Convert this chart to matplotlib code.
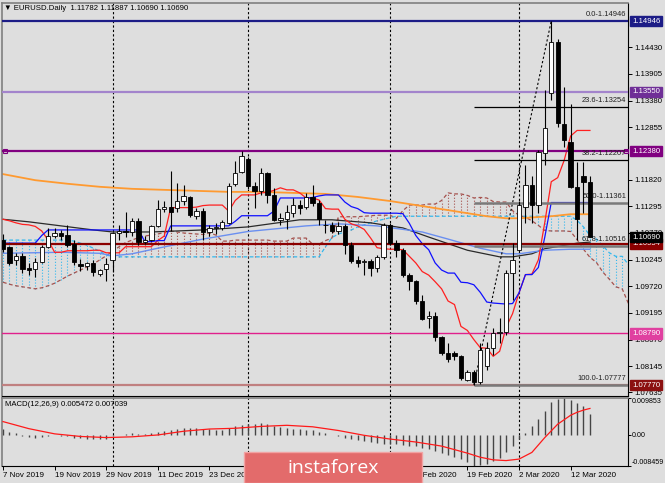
import numpy as np
import matplotlib.pyplot as plt
from matplotlib.patches import Rectangle

plt.rcParams['font.family'] = ['Liberation Sans', 'DejaVu Sans']

# EURUSD daily bars, 7 Nov 2019 .. 17 Mar 2020 (index 0..91)
opens = [1.1063, 1.1049, 1.1024, 1.1032, 1.1008, 1.1006, 1.1020, 1.1049, 1.1071, 1.1077,
         1.1073, 1.1055, 1.1016, 1.1012, 1.1018, 1.0996, 1.1006, 1.1024, 1.1077, 1.1080,
         1.1079, 1.1101, 1.1059, 1.1063, 1.1091, 1.1124, 1.1128, 1.1126, 1.1141, 1.1147,
         1.1111, 1.1121, 1.1079, 1.1087, 1.1087, 1.1097, 1.1173, 1.1197, 1.1222, 1.1170,
         1.1160, 1.1195, 1.1152, 1.1103, 1.1104, 1.1117, 1.1132, 1.1128, 1.1148, 1.1136,
         1.1092, 1.1093, 1.1080, 1.1090, 1.1054, 1.1024, 1.1019, 1.1022, 1.1009, 1.1030,
         1.1092, 1.1058, 1.1043, 1.0995, 1.0982, 1.0943, 1.0909, 1.0913, 1.0872, 1.0840,
         1.0840, 1.0834, 1.0788, 1.0804, 1.0784, 1.0814, 1.0850, 1.0880, 1.0882, 1.0998,
         1.1043, 1.1129, 1.1172, 1.1132, 1.1235, 1.1352, 1.1454, 1.1292, 1.1257, 1.1168,
         1.1189, 1.11782]
highs = [1.1075, 1.1052, 1.1038, 1.1038, 1.1018, 1.1028, 1.1053, 1.1087, 1.1087, 1.1082,
         1.1093, 1.1063, 1.1026, 1.1020, 1.1024, 1.1006, 1.1028, 1.1079, 1.1093, 1.1118,
         1.1107, 1.1107, 1.1071, 1.1093, 1.1142, 1.1140, 1.1200, 1.1175, 1.1172, 1.1150,
         1.1126, 1.1126, 1.1093, 1.1096, 1.1103, 1.1175, 1.1218, 1.1239, 1.1227, 1.1177,
         1.1206, 1.1198, 1.1166, 1.1117, 1.1132, 1.1146, 1.1142, 1.1155, 1.1172, 1.1142,
         1.1103, 1.1099, 1.1098, 1.1095, 1.1059, 1.1031, 1.1026, 1.1026, 1.1034, 1.1096,
         1.1097, 1.1063, 1.1048, 1.0998, 1.0984, 1.0955, 1.0923, 1.0922, 1.0874, 1.0861,
         1.0844, 1.0837, 1.0808, 1.0808, 1.0860, 1.0862, 1.0889, 1.0909, 1.1004, 1.1057,
         1.1140, 1.1211, 1.1190, 1.1240, 1.1359, 1.14946, 1.1460, 1.1365, 1.1332, 1.1217,
         1.1217, 1.11887]
lows = [1.1040, 1.1013, 1.1014, 1.0998, 1.0994, 1.0990, 1.1018, 1.1047, 1.1067, 1.1063,
        1.1049, 1.1014, 1.1002, 1.1004, 1.0992, 1.0992, 1.0982, 1.1000, 1.1063, 1.1070,
        1.1071, 1.1053, 1.1055, 1.1061, 1.1089, 1.1118, 1.1080, 1.1118, 1.1132, 1.1108,
        1.1105, 1.1064, 1.1072, 1.1075, 1.1083, 1.1094, 1.1170, 1.1195, 1.1163, 1.1127,
        1.1152, 1.1137, 1.1100, 1.1092, 1.1085, 1.1108, 1.1115, 1.1125, 1.1130, 1.1093,
        1.1077, 1.1076, 1.1075, 1.1036, 1.1018, 1.1010, 1.0995, 1.0992, 1.1001, 1.1026,
        1.1053, 1.1030, 1.0990, 1.0965, 1.0938, 1.0905, 1.0890, 1.0864, 1.0836, 1.0823,
        1.0827, 1.0788, 1.0786, 1.07777, 1.0780, 1.0808, 1.0837, 1.0860, 1.0877, 1.0945,
        1.1040, 1.1097, 1.1097, 1.1116, 1.1211, 1.1339, 1.1285, 1.1247, 1.1165, 1.1063,
        1.1116, 1.10690]
closes = [1.1045, 1.1018, 1.1032, 1.1006, 1.1005, 1.1020, 1.1049, 1.1071, 1.1077, 1.1071,
          1.1053, 1.1020, 1.1012, 1.1018, 1.1000, 1.1004, 1.1016, 1.1077, 1.1080, 1.1078,
          1.1101, 1.1059, 1.1063, 1.1091, 1.1124, 1.1128, 1.1118, 1.1140, 1.1149, 1.1112,
          1.1121, 1.1078, 1.1087, 1.1089, 1.1098, 1.1170, 1.1196, 1.1229, 1.1170, 1.1160,
          1.1195, 1.1152, 1.1103, 1.1106, 1.1118, 1.1132, 1.1127, 1.1147, 1.1136, 1.1104,
          1.1093, 1.1081, 1.1090, 1.1054, 1.1022, 1.1017, 1.1022, 1.1009, 1.1030, 1.1092,
          1.1058, 1.1043, 1.0995, 1.0982, 1.0943, 1.0908, 1.0913, 1.0872, 1.0840, 1.0828,
          1.0834, 1.0792, 1.0804, 1.0784, 1.0846, 1.0850, 1.0880, 1.0882, 1.0998, 1.1024,
          1.1132, 1.1172, 1.1132, 1.1237, 1.1284, 1.1454, 1.1293, 1.1260, 1.1168, 1.1104,
          1.1178, 1.10690]

# Ichimoku lines
tenkan = [1.1104, 1.1101, 1.1097, 1.1094, 1.1093, 1.1090, 1.1081, 1.1063, 1.1039, 1.1039,
          1.1042, 1.1042, 1.1042, 1.1042, 1.1043, 1.1043, 1.1038, 1.1038, 1.1038, 1.1050,
          1.1050, 1.1050, 1.1050, 1.1050, 1.1062, 1.1071, 1.1127, 1.1127, 1.1127, 1.1127,
          1.1128, 1.1131, 1.1132, 1.1132, 1.1132, 1.1120, 1.1141, 1.1152, 1.1152, 1.1152,
          1.1156, 1.1157, 1.1161, 1.1166, 1.1162, 1.1162, 1.1156, 1.1146, 1.1146, 1.1142,
          1.1125, 1.1124, 1.1124, 1.1104, 1.1095, 1.1091, 1.1084, 1.1067, 1.1048, 1.1046,
          1.1045, 1.1045, 1.1044, 1.1031, 1.1018, 1.1001, 1.0994, 1.0981, 1.0967, 1.0943,
          1.0936, 1.0893, 1.0885, 1.0867, 1.0851, 1.0850, 1.0834, 1.0844, 1.0891, 1.0918,
          1.0959, 1.0995, 1.0996, 1.1024, 1.1098, 1.1178, 1.1186, 1.1220, 1.1268, 1.1279,
          1.1279, 1.1279]
kijun = [1.1057, 1.1057, 1.1057, 1.1057, 1.1057, 1.1057, 1.1072, 1.1083, 1.1083, 1.1083,
         1.1083, 1.1083, 1.1083, 1.1083, 1.1083, 1.1083, 1.1083, 1.1083, 1.1083, 1.1083,
         1.1083, 1.1083, 1.1060, 1.1060, 1.1062, 1.1062, 1.1091, 1.1091, 1.1091, 1.1091,
         1.1091, 1.1091, 1.1091, 1.1091, 1.1091, 1.1091, 1.1100, 1.1111, 1.1111, 1.1111,
         1.1111, 1.1111, 1.1120, 1.1146, 1.1146, 1.1146, 1.1146, 1.1146, 1.1147, 1.1150,
         1.1152, 1.1152, 1.1152, 1.1138, 1.1129, 1.1125, 1.1117, 1.1116, 1.1116, 1.1116,
         1.1116, 1.1116, 1.1115, 1.1096, 1.1072, 1.1056, 1.1044, 1.1018, 1.1004, 1.0998,
         1.0998, 1.0980, 1.0979, 1.0975, 1.0960, 1.0941, 1.0939, 1.0938, 1.0937, 1.0938,
         1.0959, 1.0995, 1.0995, 1.1009, 1.1069, 1.1137, 1.1137, 1.1137, 1.1137, 1.1137,
         1.1137, 1.1137]
# cloud spans run 6 bars past the last candle (index 0..97)
span_a = [1.0980, 1.0976, 1.0973, 1.0971, 1.0969, 1.0967, 1.0969, 1.0973, 1.0978, 1.0985,
          1.0992, 1.0998, 1.1004, 1.1010, 1.1016, 1.1024, 1.1032, 1.1041, 1.1050, 1.1058,
          1.1063, 1.1068, 1.1071, 1.1073, 1.1075, 1.1078, 1.1081, 1.1079, 1.1077, 1.1076,
          1.1075, 1.1074, 1.1077, 1.1073, 1.1061, 1.1061, 1.1063, 1.1063, 1.1063, 1.1063,
          1.1063, 1.1063, 1.1061, 1.1061, 1.1061, 1.1067, 1.1067, 1.1067, 1.1055, 1.1055,
          1.1062, 1.1067, 1.1109, 1.1109, 1.1109, 1.1109, 1.1110, 1.1111, 1.1112, 1.1112,
          1.1112, 1.1106, 1.1121, 1.1132, 1.1132, 1.1132, 1.1134, 1.1134, 1.1141, 1.1156,
          1.1154, 1.1154, 1.1151, 1.1146, 1.1147, 1.1146, 1.1139, 1.1138, 1.1138, 1.1121,
          1.1112, 1.1108, 1.1101, 1.1092, 1.1082, 1.1081, 1.1081, 1.1081, 1.1080, 1.1064,
          1.1045, 1.1029, 1.1019, 1.1000, 1.0986, 1.0971, 1.0967, 1.0937]
span_b = [1.1063, 1.1063, 1.1063, 1.1063, 1.1063, 1.1063, 1.1063, 1.1063, 1.1063, 1.1063,
          1.1063, 1.1061, 1.1057, 1.1053, 1.1047, 1.1041, 1.1034, 1.1030, 1.1030, 1.1030,
          1.1030, 1.1030, 1.1030, 1.1030, 1.1030, 1.1030, 1.1030, 1.1030, 1.1030, 1.1030,
          1.1030, 1.1030, 1.1030, 1.1030, 1.1030, 1.1030, 1.1030, 1.1030, 1.1030, 1.1030,
          1.1030, 1.1030, 1.1030, 1.1030, 1.1030, 1.1030, 1.1030, 1.1030, 1.1030, 1.1030,
          1.1050, 1.1068, 1.1075, 1.1079, 1.1083, 1.1089, 1.1093, 1.1097, 1.1101, 1.1104,
          1.1107, 1.1110, 1.1110, 1.1110, 1.1110, 1.1110, 1.1110, 1.1110, 1.1110, 1.1110,
          1.1110, 1.1110, 1.1110, 1.1110, 1.1110, 1.1110, 1.1110, 1.1110, 1.1110, 1.1110,
          1.1110, 1.1110, 1.1110, 1.1110, 1.1110, 1.1110, 1.1110, 1.1110, 1.1110, 1.1102,
          1.1089, 1.1072, 1.1065, 1.1052, 1.1038, 1.1031, 1.1031, 1.1014]

# moving averages, read at points along each line
ma_orange_x = [0, 5, 10, 15, 20, 25, 30, 35, 40, 45, 50, 55, 60, 65, 70, 75, 78, 80, 85, 88, 91]
ma_orange = [1.1193, 1.1181, 1.1174, 1.1168, 1.1164, 1.1162, 1.1160, 1.1158, 1.1158, 1.1156,
             1.1154, 1.1148, 1.1140, 1.1130, 1.1120, 1.1110, 1.1106, 1.1106, 1.1110, 1.1114, 1.1114]
ma_black_x = [0, 4, 14, 17, 23, 31, 38, 46, 51, 57, 62, 66, 72, 77, 79, 82, 84, 89, 91]
ma_black = [1.1104, 1.1099, 1.1083, 1.1079, 1.1079, 1.1083, 1.1089, 1.1103, 1.1103, 1.1097,
            1.1087, 1.1069, 1.1043, 1.1030, 1.1030, 1.1036, 1.1046, 1.1057, 1.1059]
ma_blue_x = [0, 9, 15, 17, 20, 24, 31, 38, 47, 52, 58, 65, 69, 74, 78, 80, 84, 88, 91]
ma_blue = [1.1037, 1.1039, 1.1037, 1.1032, 1.1036, 1.1047, 1.1065, 1.1080, 1.1091, 1.1095,
           1.1091, 1.1079, 1.1065, 1.1047, 1.1036, 1.1036, 1.1043, 1.1045, 1.1045]

# MACD(12,26,9)
macd = [0.0016, 0.0006, 0.0003, -0.0003, -0.0006, -0.0008, -0.0007, -0.0004, -0.0002, -0.0003,
        -0.0005, -0.0008, -0.0010, -0.0011, -0.0012, -0.0013, -0.0011, -0.0005, -0.0002, 0.0001,
        0.0003, 0.0001, 0.0002, 0.0004, 0.0008, 0.0010, 0.0013, 0.0016, 0.0019, 0.0019,
        0.0019, 0.0016, 0.0014, 0.0013, 0.0013, 0.0018, 0.0022, 0.0027, 0.0028, 0.0028,
        0.0030, 0.0029, 0.0024, 0.0021, 0.0017, 0.0016, 0.0014, 0.0013, 0.0012, 0.0008,
        0.0003, 0.0000, -0.0003, -0.0008, -0.0012, -0.0015, -0.0018, -0.0020, -0.0022, -0.0024,
        -0.0025, -0.0025, -0.0027, -0.0030, -0.0032, -0.0035, -0.0038, -0.0043, -0.0049, -0.0055,
        -0.0060, -0.0067, -0.0075, -0.008459, -0.0082, -0.0078, -0.0070, -0.0062, -0.0047, -0.0031,
        -0.0012, 0.0005, 0.0022, 0.0042, 0.0063, 0.0088, 0.0097, 0.009853, 0.0093, 0.0084,
        0.0077, 0.005472]
signal_x = [0, 4, 8, 12, 16, 20, 24, 28, 32, 36, 40, 44, 48, 52, 56, 60, 64, 68, 72, 74,
            76, 78, 80, 82, 84, 85, 86, 87, 88, 89, 90, 91]
signal = [0.0035, 0.0016, 0.0002, -0.0005, -0.0008, -0.0006, -0.0001, 0.0009, 0.0015, 0.0017,
          0.0022, 0.0025, 0.0021, 0.0011, -0.0002, -0.0012, -0.0020, -0.0031, -0.0050, -0.0061,
          -0.0068, -0.0070, -0.0066, -0.0048, -0.0008, 0.0010, 0.0028, 0.0040, 0.0052, 0.0060,
          0.0066, 0.007039]

# horizontal levels (price, line colour, label colour)
levels = [(1.14946, '#1c1c86', '#1c1c86'), (1.13550, '#a384cc', '#6f2f97'),
          (1.12380, '#800080', '#800080'), (1.10554, '#8b0000', '#8b0000'),
          (1.08790, '#e0208c', '#e040a0'), (1.07770, '#c08080', '#8b1010')]
fib_low, fib_high = 1.07777, 1.14946
fib_pct = ['0.0', '23.6', '38.2', '50.0', '61.8', '100.0']
fib_val = [1.14946, 1.13254, 1.12207, 1.11361, 1.10516, 1.07777]

price_ticks = [1.14430, 1.13905, 1.13380, 1.12855, 1.11820, 1.11295, 1.10770,
               1.10245, 1.09720, 1.09195, 1.08670, 1.08145, 1.07635]
# labels under the watermark (6, 16, 28 Jan) are not visible in the chart
date_pos = [0, 8, 16, 24, 32, 40, 48, 56, 64, 72, 80, 88]
date_lbl = ['7 Nov 2019', '19 Nov 2019', '29 Nov 2019', '11 Dec 2019', '23 Dec 2019',
            '', '', '', '7 Feb 2020', '19 Feb 2020', '2 Mar 2020', '12 Mar 2020']
month_starts = [17, 38, 60, 80]

W, H = 665, 483
BG = '#dedede'
BROWN = '#a5524e'
SKY = '#33b8ee'
FS = 5.6

fig = plt.figure(figsize=(W / 100, H / 100), dpi=100)
fig.patch.set_facecolor(BG)


def box(x0, y0, x1, y1):
    return [x0 / W, 1 - y1 / H, (x1 - x0) / W, (y1 - y0) / H]


ax = fig.add_axes(box(2, 3, 628, 396))
ax2 = fig.add_axes(box(2, 398, 628, 466))
XL = (-0.155, 96.9)

for a in (ax, ax2):
    a.set_facecolor(BG)
    a.set_xlim(*XL)
    for s in ('left', 'top'):
        a.spines[s].set_color('#808080')
        a.spines[s].set_linewidth(1.2)
    for s in ('right', 'bottom'):
        a.spines[s].set_color('black')
        a.spines[s].set_linewidth(0.8)
    a.yaxis.tick_right()
    a.tick_params(axis='y', length=3, width=0.7, pad=1.5, labelsize=FS, colors='black')
    for m in month_starts:
        a.axvline(m, color='black', lw=0.8, ls=(0, (2, 2)), zorder=1)

ax.set_ylim(1.075585, 1.15301)
ax.set_xticks([])
ax.set_yticks(price_ticks)
ax.set_yticklabels(['%.5f' % v for v in price_ticks])

# cloud
cx = np.arange(len(span_a))
sa = np.array(span_a)
sb = np.array(span_b)
hcol = [BROWN if p >= q else SKY for p, q in zip(sa, sb)]
ax.vlines(cx, np.minimum(sa, sb), np.maximum(sa, sb), colors=hcol, linestyles='dotted',
          lw=0.8, zorder=1.5)
ax.plot(cx, sa, color=BROWN, lw=0.9, dashes=(3, 2), zorder=1.6)
ax.plot(cx, sb, color=SKY, lw=0.9, dashes=(3, 2), zorder=1.6)

# moving averages and Ichimoku
ax.plot(ma_orange_x, ma_orange, color='#ff9a30', lw=1.3, zorder=2.5)
ax.plot(ma_black_x, ma_black, color='#2a2a2a', lw=0.9, zorder=2.5)
ax.plot(ma_blue_x, ma_blue, color='#6a8ff0', lw=1.0, zorder=2.5)
n = len(closes)
ax.plot(range(n), tenkan, color='#ff2020', lw=0.9, zorder=2.6)
ax.plot(range(n), kijun, color='#1010ff', lw=0.9, zorder=2.6)

# horizontal levels
for price, lc, bc in levels:
    ax.axhline(price, color=lc, lw=1.6 if price != 1.08790 else 1.0, zorder=3)
ax.plot([0.3, 96.6], [1.12380, 1.12380], 's', ms=3, mfc='none', mec='#800080', mew=0.8,
        zorder=3.1)

# fibonacci
i_lo, i_hi = 73, 85
ax.plot([i_lo, i_hi], [fib_low, fib_high], color='black', lw=0.8, ls=(0, (2, 2)), zorder=3)
for pct, v in zip(fib_pct, fib_val):
    if pct in ('23.6', '38.2'):
        ax.hlines(v, i_lo, XL[1], color='black', lw=0.9, zorder=3.2)
    elif pct != '0.0':
        ax.hlines(v, i_lo, XL[1], color='#7a7a7a', lw=1.8, zorder=3.2)
    ax.text(XL[1] - 0.25, v + 0.0006, '%s-%.5f' % (pct, v), ha='right', va='bottom',
            fontsize=5.4, color='#202020', zorder=3.3)

# candles
x = np.arange(n)
o = np.array(opens)
c = np.array(closes)
ax.vlines(x, lows, highs, color='black', lw=0.8, zorder=4)
bot = np.minimum(o, c)
hgt = np.maximum(np.abs(c - o), 0.00006)
bull = c >= o
ax.bar(x, hgt, bottom=bot, width=0.68, color=np.where(bull, 'white', 'black'),
       edgecolor='black', lw=0.6, zorder=4.5)

# price boxes on the right scale
ytr = ax.get_yaxis_transform()
for price, lc, bc in levels:
    ax.text(1 + 4 / 626, price, '%.5f' % price, transform=ytr, ha='left', va='center',
            fontsize=FS, color='white', clip_on=False, zorder=10,
            bbox=dict(boxstyle='square,pad=0.22', fc=bc, ec=bc))
ax.text(1 + 4 / 626, 1.10690, '1.10690', transform=ytr, ha='left', va='center',
        fontsize=FS, color='white', clip_on=False, zorder=10,
        bbox=dict(boxstyle='square,pad=0.22', fc='black', ec='black'))

# MACD panel
ax2.set_ylim(-0.008459, 0.009853)
ax2.vlines(x, 0, macd, color='#454545', lw=1.0, zorder=2)
ax2.plot(signal_x, signal, color='#ff1a1a', lw=0.9, zorder=3)
ax2.set_yticks([0.009853, 0.0, -0.008459])
ax2.set_yticklabels(['0.009853', '0.00', '-0.008459'])
ax2.tick_params(axis='y', length=2, pad=0.5, labelsize=5.1)
tl = ax2.get_yticklabels()
tl[0].set_va('top')
tl[2].set_va('bottom')
ax2.set_xticks(date_pos)
ax2.set_xticklabels(date_lbl, ha='left')
ax2.tick_params(axis='x', length=3, width=0.7, pad=1.5, labelsize=5.8, colors='black')

fig.text(4 / W, 1 - 9 / H, '\u25bc EURUSD.Daily  1.11782 1.11887 1.10690 1.10690',
         fontsize=FS, va='center', ha='left')
fig.text(5 / W, 1 - 405 / H, 'MACD(12,26,9) 0.005472 0.007039', fontsize=FS,
         va='center', ha='left')

# watermark banner
fig.add_artist(Rectangle((244 / W, 0), (422 - 244) / W, 31 / H, transform=fig.transFigure,
                         fc='#e36b6b', ec='#f2a3a3', lw=1, zorder=20))
fig.text(333 / W, 1 - 468 / H, 'instaforex', color='white', fontsize=14,
         family=['Open Sans', 'DejaVu Sans'], ha='center', va='center', zorder=21)

fig.savefig('out.png', dpi=100, facecolor=BG)
